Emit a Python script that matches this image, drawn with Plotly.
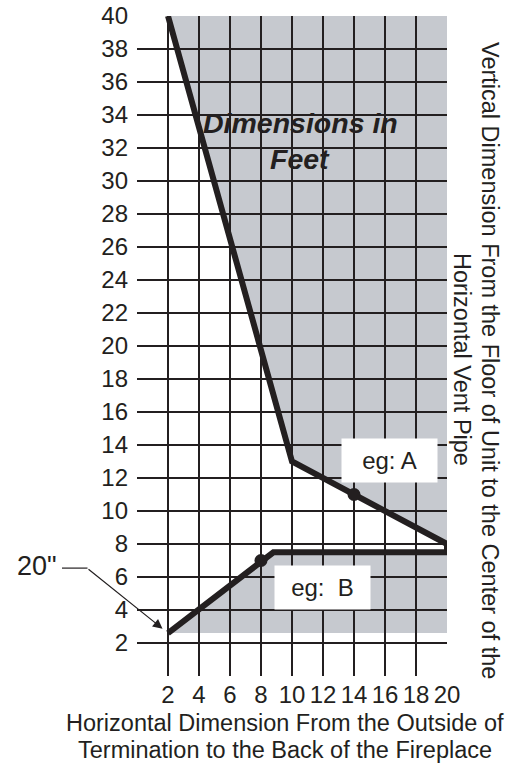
import plotly.graph_objects as go

# ---- data ----
x_ticks = [2, 4, 6, 8, 10, 12, 14, 16, 18, 20]
y_ticks = list(range(0, 42, 2))
y_ticktext = ["" if v == 0 else str(v) for v in y_ticks]

line_a_x = [2, 10, 20]
line_a_y = [40, 13, 8]
line_b_x = [2, 8.8, 20, 20]
line_b_y = [2.6, 7.5, 7.5, 8]

shade_top_x = [2, 10, 20, 20]
shade_top_y = [40, 13, 8, 40]
shade_bot_x = [2, 8.8, 20, 20]
shade_bot_y = [2.6, 7.5, 7.5, 2.6]

example_x = [14, 8]
example_y = [11, 7]

X_RANGE = [0, 20]
Y_RANGE = [0, 40]

INK = "#231f20"
GRAY = "#c6c9cf"
FONT = "Liberation Sans, Arial, sans-serif"

# plot area in pixels (figure coords)
L, R, T, B = 137, 447, 16, 676
W, H = 516, 763


def px_x(p):
    return (p - L) / (R - L)


def px_y(p):
    return (B - p) / (B - T)


def path_from(xs, ys):
    pts = " L ".join(f"{a},{b}" for a, b in zip(xs, ys))
    return "M " + pts + " Z"


fig = go.Figure()

fig.add_trace(go.Scatter(x=line_a_x, y=line_a_y, mode="lines",
                         line=dict(color=INK, width=6), cliponaxis=False,
                         hoverinfo="skip", showlegend=False))
fig.add_trace(go.Scatter(x=line_b_x, y=line_b_y, mode="lines",
                         line=dict(color=INK, width=6), cliponaxis=False,
                         hoverinfo="skip", showlegend=False))
fig.add_trace(go.Scatter(x=example_x, y=example_y, mode="markers",
                         marker=dict(color=INK, size=13), cliponaxis=False,
                         hoverinfo="skip", showlegend=False))

anchor_px = (line_b_x[0] - X_RANGE[0]) / (X_RANGE[1] - X_RANGE[0])
anchor_py = (line_b_y[0] - Y_RANGE[0]) / (Y_RANGE[1] - Y_RANGE[0])

shapes = [
    dict(type="path", xref="x", yref="y", path=path_from(shade_top_x, shade_top_y),
         fillcolor=GRAY, line=dict(width=0), layer="below"),
    dict(type="path", xref="x", yref="y", path=path_from(shade_bot_x, shade_bot_y),
         fillcolor=GRAY, line=dict(width=0), layer="below"),
    # short horizontal leader for the 20" label, anchored to the B start point
    dict(type="line", xref="paper", yref="paper", xsizemode="pixel", ysizemode="pixel",
         xanchor=anchor_px, yanchor=anchor_py,
         x0=-106, x1=-80.5, y0=65, y1=65, line=dict(color=INK, width=1.2)),
]

annotations = [
    dict(text="<b><i>Dimensions in</i></b>", xref="paper", yref="paper",
         x=px_x(300), y=px_y(123), xanchor="center", yanchor="middle",
         showarrow=False, font=dict(family=FONT, size=28.5, color=INK)),
    dict(text="<b><i>Feet</i></b>", xref="paper", yref="paper",
         x=px_x(300), y=px_y(159), xanchor="center", yanchor="middle",
         showarrow=False, font=dict(family=FONT, size=28.5, color=INK)),
    dict(text="eg: A", x=16.29, y=13.06, xref="x", yref="y", showarrow=False,
         bgcolor="white", width=95, height=43, borderpad=0,
         font=dict(family=FONT, size=24, color=INK)),
    dict(text="eg:  B", x=11.97, y=5.39, xref="x", yref="y", showarrow=False,
         bgcolor="white", width=95, height=43, borderpad=0,
         font=dict(family=FONT, size=24, color=INK)),
    dict(text="", x=line_b_x[0], y=line_b_y[0], xref="x", yref="y",
         ax=-81, ay=-65, showarrow=True, arrowhead=2, arrowsize=1.6,
         arrowwidth=1.2, arrowcolor=INK, standoff=7),
    dict(text='20"', xref="paper", yref="paper",
         x=px_x(37), y=px_y(566), xanchor="center", yanchor="middle",
         showarrow=False, font=dict(family=FONT, size=27, color=INK)),
    dict(text="Vertical Dimension From the Floor of Unit to the Center of the",
         xref="paper", yref="paper", x=px_x(490), y=px_y(360),
         xanchor="center", yanchor="middle", textangle=90, showarrow=False,
         font=dict(family=FONT, size=23.5, color=INK)),
    dict(text="Horizontal Vent Pipe",
         xref="paper", yref="paper", x=px_x(462), y=px_y(359),
         xanchor="center", yanchor="middle", textangle=90, showarrow=False,
         font=dict(family=FONT, size=23.5, color=INK)),
    dict(text="Horizontal Dimension From the Outside of",
         xref="paper", yref="paper", x=px_x(284.5), y=px_y(723),
         xanchor="center", yanchor="middle", showarrow=False,
         font=dict(family=FONT, size=23.5, color=INK)),
    dict(text="Termination to the Back of the Fireplace",
         xref="paper", yref="paper", x=px_x(284.5), y=px_y(750),
         xanchor="center", yanchor="middle", showarrow=False,
         font=dict(family=FONT, size=23.5, color=INK)),
]

fig.update_layout(
    width=W, height=H,
    margin=dict(l=L, r=W - R, t=T, b=H - B, autoexpand=False),
    plot_bgcolor="white", paper_bgcolor="white",
    shapes=shapes, annotations=annotations,
    font=dict(family=FONT, color=INK),
    showlegend=False,
)
fig.update_xaxes(range=X_RANGE, tickmode="array", tickvals=x_ticks,
                 ticktext=[str(v) for v in x_ticks], automargin=False,
                 showgrid=True, gridcolor=INK, gridwidth=1.7, zeroline=False,
                 showline=False, ticks="", ticklabelstandoff=2,
                 tickfont=dict(family=FONT, size=24, color=INK), fixedrange=True)
fig.update_yaxes(range=Y_RANGE, tickmode="array", tickvals=y_ticks, ticktext=y_ticktext,
                 automargin=False,
                 showgrid=True, gridcolor=INK, gridwidth=1.7, zeroline=False,
                 showline=False, ticks="", ticklabelstandoff=8,
                 tickfont=dict(family=FONT, size=24, color=INK), fixedrange=True)

fig.write_html("out.html", config={"displayModeBar": False},
               post_script="document.body.style.margin='0px';")
